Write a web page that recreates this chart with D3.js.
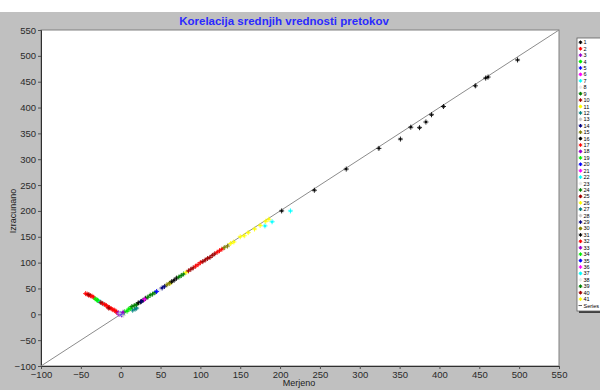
<!DOCTYPE html>
<html>
<head>
<meta charset="utf-8">
<script src="https://cdn.jsdelivr.net/npm/d3@7"></script>
<style>
  html, body { margin: 0; padding: 0; background: #ffffff; }
  svg { display: block; }
  text { font-family: "Liberation Sans", Arial, sans-serif; }
</style>
</head>
<body>
<svg id="chart" width="600" height="390"></svg>
<script>
// Axis ticks
const xTicks = [-100, -50, 0, 50, 100, 150, 200, 250, 300, 350, 400, 450, 500, 550];
const yTicks = [-100, -50, 0, 50, 100, 150, 200, 250, 300, 350, 400, 450, 500, 550];

// Legend entries (41 stations + the y = x reference line)
const legendLabels = d3.range(1, 42).map(String).concat(["Series"]);

// Colour cycle used by the series
const palette = ["#000000", "#ff0000", "#9900cc", "#00ee00", "#0000ff", "#ff00ff", "#00ffff",
                 "#e8e8e8", "#008000", "#a00000", "#ffff00", "#008080", "#c8c8c8", "#000080", "#808000"];

// Points: series number, measured (Merjeno), computed (Izracunano)
const serija = [
  1,1,1,1,1,1,1,1,1,1,1,1,1,1,
  7,7,7,22,22,37,
  11,11,11,26,26,41,41,11,
  2,2,2,2,2,2,17,17,17,17,32,32,32,32,2,17,
  4,4,19,10,25,10,
  3,3,18,5,20,13,28,
  12,12,27,
  4,19,34,34,9,24,39,
  16,16,31,31,9,9,24,39,38,23,14,29,15,30,1,16,31,9,24,39,
  26,10,25,40,2,17,32,40,25,10,
  10,25,40,2,17,32,15,30,11,26,
  36,35,33,14
];
const merjeno = [
  202,243,283,324,351,364,375,383,390,405,445,458,461,498,
  213,190,181,-26,-22,-28,
  160,168,175,182,186,150,62,155,
  -44,-42,-40,-38,-36,-34,-23,-20,-18,-16,-14,-12,-10,-8,-6,-5,
  -32,-30,-29,-40,-15,-25,
  -3,-2,1,0,2,-1,3,
  18,15,20,
  5,8,10,12,14,17,20,
  22,25,28,31,34,37,40,43,46,49,52,55,58,61,64,67,70,73,76,79,
  82,85,88,91,94,97,100,103,106,109,
  112,115,118,121,124,127,130,134,138,142,
  30,45,3,26
];
const izracunano = [
  200,240,281,321,339,362,361,372,386,402,442,457,459,492,
  200,179,171,24,20,26,
  158,165,172,180,184,150,60,152,
  40,39,37,36,35,33,21,19,17,14,13,11,9,8,6,4,
  30,28,27,38,12,23,
  3,0,-1,1,0,2,-2,
  10,8,12,
  5,6,10,11,15,17,19,
  22,24,27,31,33,37,39,42,46,48,51,54,57,60,63,66,70,72,75,78,
  81,84,87,90,93,96,100,102,105,108,
  110,114,117,120,123,126,129,132,137,140,
  29,44,4,25
];

const svg = d3.select("#chart");

// Backgrounds
svg.append("rect").attr("x", 0).attr("y", 0).attr("width", 600).attr("height", 390).attr("fill", "#ffffff");
svg.append("rect").attr("x", 0).attr("y", 12).attr("width", 600).attr("height", 378).attr("fill", "#c0c0c0");

const x = d3.scaleLinear().domain([-100, 550]).range([41, 559]);
const y = d3.scaleLinear().domain([-100, 550]).range([366, 30]);

// Plot area
svg.append("rect")
  .attr("x", x(-100)).attr("y", y(550))
  .attr("width", x(550) - x(-100)).attr("height", y(-100) - y(550))
  .attr("fill", "#ffffff").attr("stroke", "#808080").attr("stroke-width", 1);

// Title
svg.append("text")
  .attr("x", 284).attr("y", 24.5)
  .attr("text-anchor", "middle")
  .attr("font-size", 11.5).attr("font-weight", "bold")
  .attr("fill", "#2a2aff")
  .text("Korelacija srednjih vrednosti pretokov");

// Axes: minor and major ticks
const minor = d3.range(-100, 551, 10);
const gx = svg.append("g").attr("transform", `translate(0,${y(-100)})`);
gx.call(d3.axisBottom(x).tickValues(minor).tickSize(2).tickFormat(""));
gx.call(d3.axisBottom(x).tickValues(xTicks).tickSize(3).tickPadding(2).tickFormat(d3.format("d")));
const gy = svg.append("g").attr("transform", `translate(${x(-100)},0)`);
gy.call(d3.axisLeft(y).tickValues(minor).tickSize(2).tickFormat(""));
gy.call(d3.axisLeft(y).tickValues(yTicks).tickSize(3).tickPadding(2).tickFormat(d3.format("d")));

[gx, gy].forEach(g => {
  g.selectAll(".domain").attr("stroke", "#303030");
  g.selectAll(".tick line").attr("stroke", "#505050");
  g.selectAll("text").attr("font-size", 9.5).attr("fill", "#2a2a2a")
    .attr("font-family", "'Liberation Sans', Arial, sans-serif");
});

// Axis titles
svg.append("text")
  .attr("x", 299).attr("y", 386)
  .attr("text-anchor", "middle").attr("font-size", 9).attr("fill", "#202020")
  .text("Merjeno");
svg.append("text")
  .attr("transform", "translate(16,211) rotate(-90)")
  .attr("text-anchor", "middle").attr("font-size", 9).attr("fill", "#202020")
  .text("Izracunano");

// Reference line y = x
svg.append("line")
  .attr("x1", x(-100)).attr("y1", y(-100))
  .attr("x2", x(550)).attr("y2", y(550))
  .attr("stroke", "#8c8c8c").attr("stroke-width", 1);

// Star marker
const star = "M-2.5,0H2.5M0,-2.5V2.5M-1.2,-1.2L1.2,1.2M-1.2,1.2L1.2,-1.2";
const pts = serija.map((s, i) => ({ s, mx: merjeno[i], iz: izracunano[i] }));
svg.append("g").selectAll("path")
  .data(pts).join("path")
  .attr("transform", d => `translate(${x(d.mx)},${y(d.iz)})`)
  .attr("d", star)
  .attr("fill", "none")
  .attr("stroke", d => palette[(d.s - 1) % palette.length])
  .attr("stroke-width", 0.9);

// Legend
const lg = svg.append("g");
const lx = 577, ly = 38, lw = 40, lh = 273, row = 6.42;
lg.append("rect").attr("x", lx + 2).attr("y", ly + 2).attr("width", lw).attr("height", lh).attr("fill", "#404040");
lg.append("rect").attr("x", lx).attr("y", ly).attr("width", lw).attr("height", lh)
  .attr("fill", "#ffffff").attr("stroke", "#606060").attr("stroke-width", 0.8);
legendLabels.forEach((lab, i) => {
  const cy = 42.3 + i * row;
  if (i < 41) {
    lg.append("path").attr("transform", `translate(580.5,${cy})`)
      .attr("d", "M-1.8,0H1.8M0,-1.8V1.8M-1.2,-1.2L1.2,1.2M-1.2,1.2L1.2,-1.2")
      .attr("fill", "none").attr("stroke", palette[i % palette.length]).attr("stroke-width", 1);
  } else {
    lg.append("line").attr("x1", 578.5).attr("x2", 582).attr("y1", cy).attr("y2", cy)
      .attr("stroke", "#606060").attr("stroke-width", 1);
  }
  lg.append("text").attr("x", 583.5).attr("y", cy + 2)
    .attr("font-size", 5.5).attr("fill", "#000000").text(lab);
});
</script>
</body>
</html>
